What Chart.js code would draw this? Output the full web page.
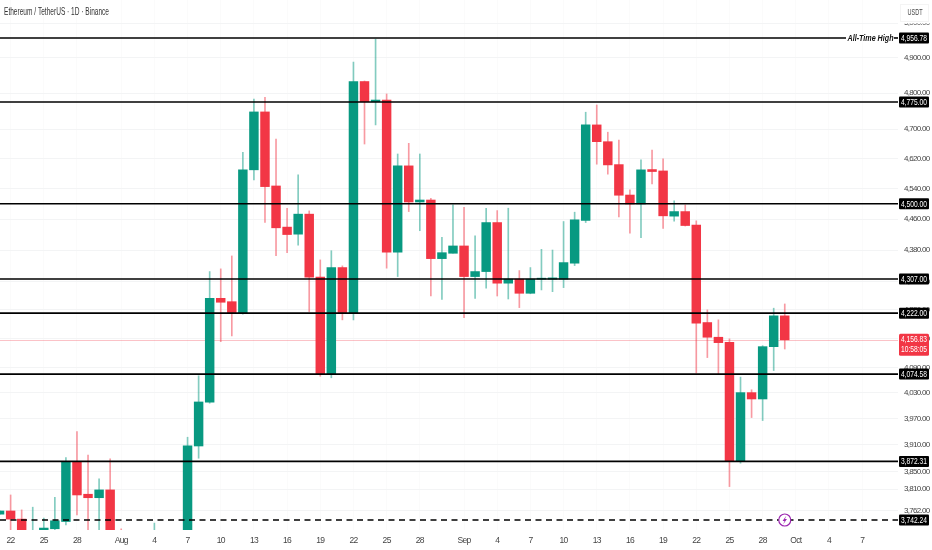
<!DOCTYPE html>
<html><head><meta charset="utf-8">
<style>html,body{margin:0;padding:0;background:#fff}canvas{display:block}</style>
<script src="https://cdn.jsdelivr.net/npm/chart.js@4"></script></head>
<body><canvas id="c" width="932" height="550"></canvas>
<script>
// day index: 0 = 22 Jul
const days=[-1,0,1,2,3,4,5,6,7,8,9,10,11,12,13,14,15,16,17,18,19,20,21,22,23,24,25,26,27,28,29,30,31,32,33,34,35,36,37,38,39,40,41,42,43,44,45,46,47,48,49,50,51,52,53,54,55,56,57,58,59,60,61,62,63,64,65,66,67,68,69,70];
const opens=[3755,3762,3744.2,3690,3705,3723.2,3739,3870.5,3798.9,3791.2,3808.5,3700,null,null,3690,null,null,3705,3907.3,4008.2,4258.6,4250.3,4223,4590,4747.6,4547,4439.2,4421,4472.9,4311.5,4073,4335.7,4223.4,4832.5,4776,4780.6,4374.5,4600.6,4504.7,4509.9,4358.4,4372,4390.7,4313,4325.6,4451,4296.4,4306.5,4271.2,4306.5,4306.5,4306.5,4346.8,4456.3,4711.8,4665.9,4604,4523,4499.5,4590.7,4587,4467.7,4479.6,4444.4,4198.9,4163.1,4151,3871.9,4030.8,4015.9,4140.3,4215.3];
const highs=[3763,3797.3,3764.4,3770.3,3746.4,3792.1,3880.9,3940.3,3886.9,3833.1,3877.9,3723,null,null,3735.5,null,null,3927.3,4070.6,4325.6,4332.4,4365.2,4637.2,4783.4,4788.3,4673.3,4488.4,4576.6,4481.4,4355.1,4378.5,4340,4887.4,4834,4953.4,4797.6,4632.6,4661.5,4632.6,4514.4,4412.8,4497,4491,4416.6,4488.4,4482.2,4488.4,4328.1,4335.7,4382,4380.3,4453.7,4478,4746.8,4766.9,4691.8,4670.6,4536.5,4616.6,4643.3,4619.3,4508,4497,4455.5,4230,4205.5,4159.2,4067.5,4037.5,4142.7,4234.2,4244.7];
const lows=[3754,3715,3690,3680,3690,3721,3731.8,3753.5,3718,3718,3690,3670,null,null,3680,null,null,3690,3879.5,4006,4152.3,4166.3,4219.5,4563.2,4451.1,4365.9,4373.5,4393,4225.8,4069.4,4065.8,4205.5,4205.5,4659.6,4711.8,4334.2,4313,4479.6,4429.9,4264.4,4256,4372,4211,4258.6,4283.8,4264.4,4257,4235.6,4270,4279.5,4275.2,4285.3,4340.7,4451.1,4605.1,4578.4,4465.9,4423.6,4412,4552.5,4435.6,4454.7,4442,4077,4114,4075,3815.9,3868.3,3972.6,3965.7,4083.1,4134.6];
const closes=[3762,3744.2,3700,3705,3724.7,3740.5,3870.5,3797.3,3791.2,3808.5,3700,3690,null,null,3705,null,null,3907.9,4008.9,4258.6,4248.9,4223.4,4589.9,4747.6,4545.3,4437.4,4420,4472.9,4311.5,4073,4335.7,4223.4,4832.5,4776,4780.6,4374.5,4600.6,4504.7,4509.9,4358.4,4373.5,4390.7,4313,4325.6,4451,4296.4,4306.5,4271.2,4306.5,4308,4309.7,4348.3,4458.1,4711.8,4665.9,4603.2,4522.5,4499.5,4589.9,4585.4,4468.5,4479.6,4443.3,4197.4,4163.1,4150,3871.9,4030.8,4015.9,4140.3,4215.3,4156.83];
const tickDays=[0,3,6,10,13,16,19,22,25,28,31,34,37,41,44,47,50,53,56,59,62,65,68,71,74,77];
const tickLabels=['22','25','28','Aug','4','7','10','13','16','19','22','25','28','Sep','4','7','10','13','16','19','22','25','28','Oct','4','7'];
const priceTicks=[5000,4900,4800,4700,4620,4540,4460,4380,4300,4230,4160,4090,4030,3970,3910,3850,3810,3762];
const levels=[4956.78,4775,4500,4307,4222,4074.58,3872.31];
const dashedLevel=3742.24;
const lastPrice=4156.83;
const countdown='10:58:05';
const titleText='Ethereum / TetherUS · 1D · Binance';
const unitText='USDT';
const athText='All-Time High';
const eventDay=70;

const UP='#089981',DOWN='#F23645',UPW='rgba(8,153,129,.5)',DOWNW='rgba(242,54,69,.5)';
const SANS='"Liberation Sans",sans-serif';
const fmt=v=>v.toLocaleString('en-US',{minimumFractionDigits:2,maximumFractionDigits:2});
const isUp=i=>closes[i]>=opens[i];
const hl=(x0,x1,y,w,c)=>(ctx)=>{ctx.beginPath();ctx.moveTo(x0,y);ctx.lineTo(x1,y);ctx.lineWidth=w;ctx.strokeStyle=c;ctx.stroke();};

const overlay={id:'overlay',
 beforeDraw(ch){ch.ctx.letterSpacing='-0.7px';},
 beforeDatasetsDraw(ch){
  const {ctx,chartArea:a,scales:{y}}=ch;
  ctx.save();hl(a.left,a.right,Math.round(y.getPixelForValue(lastPrice))+.5,1,'rgba(242,54,69,.3)')(ctx);ctx.restore();
 },
 afterDatasetsDraw(ch){
  const {ctx,chartArea:a,scales:{x,y}}=ch;
  ctx.save();
  ctx.letterSpacing='0px';
  levels.forEach((v,i)=>{
    const py=y.getPixelForValue(v);
    hl(a.left,i===0?846:a.right,py,1.6,'#000')(ctx);
    if(i===0) hl(894,a.right,py,1.6,'#000')(ctx);
  });
  const dy=y.getPixelForValue(dashedLevel);
  ctx.setLineDash([6,4.5]);hl(a.left,a.right,dy,1.5,'#000')(ctx);ctx.setLineDash([]);
  ctx.fillStyle='#111';ctx.textBaseline='middle';ctx.textAlign='left';
  ctx.font='italic bold 9.5px '+SANS;
  ctx.fillText(athText,847.5,y.getPixelForValue(levels[0])+.5,46);
  const ex=x.getPixelForValue(eventDay);
  ctx.beginPath();ctx.arc(ex,dy,6,0,Math.PI*2);ctx.fillStyle='#fff';ctx.fill();ctx.lineWidth=1.2;ctx.strokeStyle='#9c27b0';ctx.stroke();
  ctx.beginPath();ctx.moveTo(ex+1.7,dy-4.4);ctx.lineTo(ex-2.2,dy+.9);ctx.lineTo(ex-.2,dy+.9);ctx.lineTo(ex-1.7,dy+4.4);ctx.lineTo(ex+2.2,dy-.9);ctx.lineTo(ex+.2,dy-.9);ctx.closePath();ctx.fillStyle='#9c27b0';ctx.fill();
  ctx.fillStyle='#fff';ctx.fillRect(899,0,33,23.5);
  ctx.strokeStyle='#f4f4f4';ctx.lineWidth=1;ctx.strokeRect(900.5,4.5,28,17);
  ctx.fillStyle='#444';ctx.textAlign='center';ctx.font='8.5px '+SANS;ctx.fillText(unitText,915,13,15);
  const all=levels.concat([dashedLevel]);
  all.forEach(v=>{
    const py=y.getPixelForValue(v);
    ctx.fillStyle='#000';ctx.beginPath();ctx.roundRect(899,py-5.5,30,11,1);ctx.fill();
    ctx.fillStyle='#fff';ctx.textAlign='center';ctx.font='8.5px '+SANS;ctx.fillText(fmt(v),914,py+.5,26);
  });
  const lp=y.getPixelForValue(lastPrice);
  ctx.fillStyle=DOWN;ctx.beginPath();ctx.roundRect(899,lp-6,30,22,1.5);ctx.fill();
  ctx.fillStyle='#fff';ctx.font='8.5px '+SANS;
  ctx.fillText(fmt(lastPrice),914,lp,26);ctx.fillText(countdown,914,lp+9.5,26);
  ctx.fillStyle='#333';ctx.textAlign='left';ctx.font='10.5px '+SANS;
  ctx.fillText(titleText,4,12.5,105);
  ctx.restore();
 }};

new Chart(document.getElementById('c'),{
 type:'bar',
 data:{labels:days,datasets:[
  {label:'Body',order:1,grouped:false,barThickness:8.8,minBarLength:1,borderWidth:0,
   data:days.map((d,i)=>opens[i]===null?null:[opens[i],closes[i]]),
   backgroundColor:days.map((d,i)=>isUp(i)?UP:DOWN)},
  {label:'Wick',order:2,grouped:false,barThickness:1,borderWidth:0,
   data:days.map((d,i)=>highs[i]===null?null:[lows[i],highs[i]]),
   backgroundColor:days.map((d,i)=>isUp(i)?UPW:DOWNW)}
 ]},
 options:{responsive:false,animation:false,devicePixelRatio:1,
  layout:{padding:0},
  plugins:{legend:{display:false},tooltip:{enabled:false},title:{display:false}},
  scales:{
   x:{type:'linear',position:'bottom',min:-0.96,max:80.24,offset:false,bounds:'data',
    grid:{offset:false,color:'#fbfbfb',drawTicks:false},border:{display:false},
    afterBuildTicks(s){s.ticks=tickDays.map(v=>({value:v}));},
    afterFit(s){s.height=20;s.paddingLeft=0;s.paddingRight=0;},
    ticks:{autoSkip:false,maxRotation:0,minRotation:0,padding:6,color:'#444',font:{family:SANS,size:8.5},
     callback:v=>tickLabels[tickDays.indexOf(v)]}},
   y:{type:'logarithmic',position:'right',min:3720.5,max:5067.8,
    grid:{color:'#f3f4f5',drawTicks:false},border:{display:false},
    afterBuildTicks(s){s.ticks=priceTicks.map(v=>({value:v}));},
    afterFit(s){s.width=34;s.paddingTop=0;s.paddingBottom=0;},
    ticks:{autoSkip:false,padding:6,color:'#444',font:{family:SANS,size:8},
     callback:v=>fmt(v)}}
  }},
 plugins:[overlay]
});
</script></body></html>
